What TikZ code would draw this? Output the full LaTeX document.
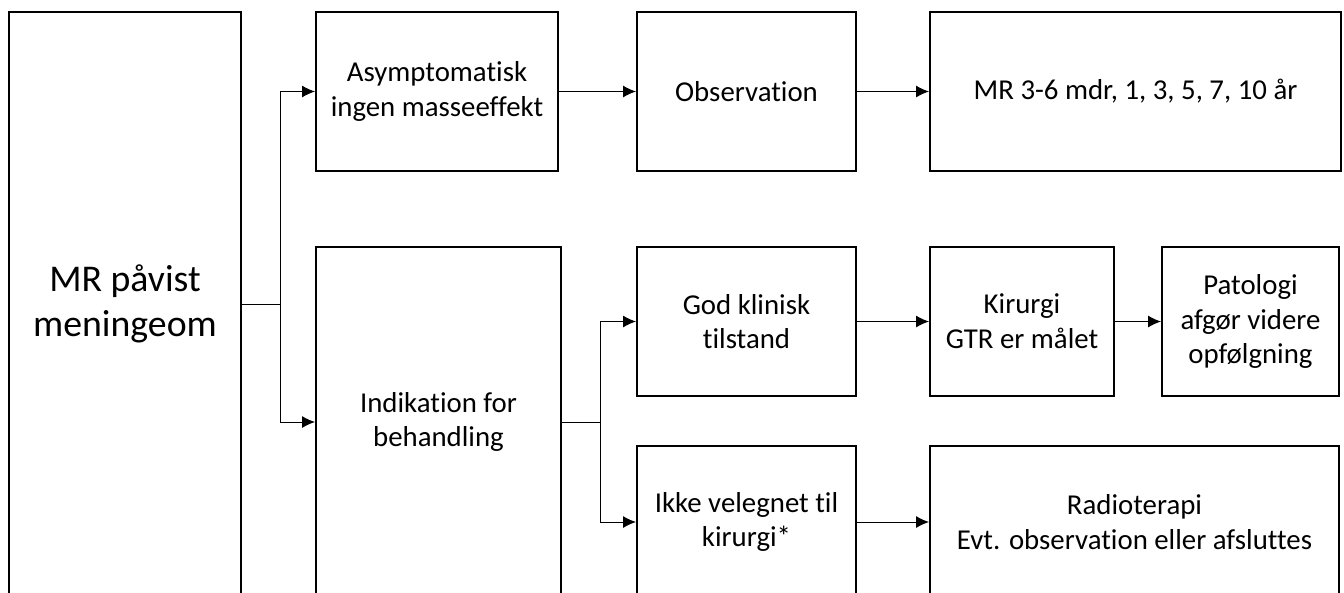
\documentclass[tikz,border=0pt]{standalone}
\usepackage{fontspec}
\setmainfont{Carlito}[RawFeature=-liga]
\usetikzlibrary{arrows.meta}

\begin{document}
\begin{tikzpicture}[x=0.02cm, y=-0.02cm,
box/.style={draw, line width=0.04cm, inner sep=0pt, anchor=north west, align=center,
  font=\fontsize{16.4}{19.8}\selectfont},
link/.style={line width=0.02cm, -{Latex[length=0.26cm, width=0.24cm]}}]

\def\px{0.02cm}
\def\gap{38}	% Abstand bis zur Verzweigung

\useasboundingbox (0,0) rectangle (1344,592);
\clip (0,0) rectangle (1344,592);

% Spalte 1
\node[box, minimum width=232*\px, minimum height=584*\px,
  font=\fontsize{21.5}{25.6}\selectfont] (mr) at (8,11) {MR påvist\\meningeom};

% obere Reihe
\node[box, minimum width=242*\px, minimum height=159*\px] (asym) at (315,11) {Asymptomatisk\\ingen masseeffekt};
\node[box, minimum width=219*\px, minimum height=159*\px] (obs) at (636,11) {Observation};
\node[box, minimum width=411*\px, minimum height=159*\px] (kontrol) at (929,11) {MR 3-6 mdr, 1, 3, 5, 7, 10 år};

% behandling
\node[box, minimum width=245*\px, minimum height=350*\px] (ind) at (315,246) {Indikation for\\behandling};
\node[box, minimum width=219*\px, minimum height=149*\px] (god) at (636,246) {God klinisk\\tilstand};
\node[box, minimum width=184*\px, minimum height=149*\px] (kir) at (929,246) {Kirurgi\\GTR er målet};
\node[box, minimum width=177*\px, minimum height=149*\px] (pat) at (1161,246) {Patologi\\afgør videre\\opfølgning};
\node[box, minimum width=219*\px, minimum height=152*\px] (ikke) at (636,445) {Ikke velegnet til\\kirurgi*};
\node[box, minimum width=409*\px, minimum height=152*\px] (radio) at (929,445) {Radioterapi\\Evt. observation eller afsluttes};

% Pfeile
\draw[link] (mr.east) -- ++(\gap,0) |- (asym.west);
\draw[link] (mr.east) -- ++(\gap,0) |- (ind.west);
\draw[link] (asym) -- (obs);
\draw[link] (obs) -- (kontrol);
\draw[link] (ind.east) -- ++(\gap,0) |- (god.west);
\draw[link] (ind.east) -- ++(\gap,0) |- (ikke.west);
\draw[link] (god) -- (kir);
\draw[link] (kir) -- (pat);
\draw[link] (ikke) -- (radio);

\end{tikzpicture}
\end{document}
